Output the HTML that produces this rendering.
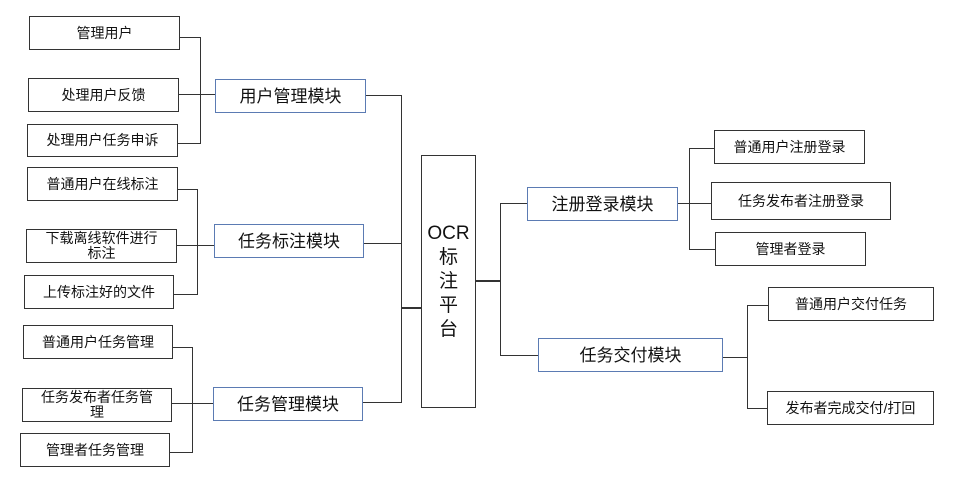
<!DOCTYPE html>
<html><head><meta charset="utf-8"><style>
body{margin:0;width:976px;height:477px;background:#fff;position:relative;overflow:hidden;font-family:"Liberation Sans","Noto Sans CJK SC",sans-serif;color:#111}
.b{position:absolute;box-sizing:border-box;border:1.3px solid #333;display:flex;align-items:center;justify-content:center;text-align:center;font-size:14px;line-height:15px;background:#fff}
.m{border-color:#5b7bb3;font-size:17px}
.h,.v{position:absolute;background:#333}
.h{height:1.3px}.v{width:1.3px}
</style></head><body>
<div class="b" style="left:29px;top:16px;width:151px;height:34px">管理用户</div>
<div class="b" style="left:28px;top:78px;width:151px;height:34px">处理用户反馈</div>
<div class="b" style="left:27px;top:124px;width:151px;height:33px">处理用户任务申诉</div>
<div class="b" style="left:27px;top:167px;width:151px;height:34px">普通用户在线标注</div>
<div class="b" style="left:26px;top:229px;width:151px;height:34px">下载离线软件进行<br>标注</div>
<div class="b" style="left:24px;top:275px;width:150px;height:34px">上传标注好的文件</div>
<div class="b" style="left:23px;top:325px;width:150px;height:34px">普通用户任务管理</div>
<div class="b" style="left:22px;top:388px;width:150px;height:34px">任务发布者任务管<br>理</div>
<div class="b" style="left:20px;top:433px;width:150px;height:34px">管理者任务管理</div>

<div class="b m" style="left:215px;top:79px;width:151px;height:34px">用户管理模块</div>
<div class="b m" style="left:214px;top:224px;width:150px;height:34px">任务标注模块</div>
<div class="b m" style="left:213px;top:387px;width:150px;height:34px">任务管理模块</div>

<div class="b" style="left:421px;top:155px;width:55px;height:253px;font-size:19px;line-height:24px">OCR<br>标<br>注<br>平<br>台</div>

<div class="b m" style="left:527px;top:187px;width:151px;height:34px">注册登录模块</div>
<div class="b m" style="left:538px;top:338px;width:185px;height:34px">任务交付模块</div>

<div class="b" style="left:714px;top:130px;width:151px;height:34px">普通用户注册登录</div>
<div class="b" style="left:711px;top:182px;width:180px;height:38px">任务发布者注册登录</div>
<div class="b" style="left:715px;top:232px;width:151px;height:34px">管理者登录</div>
<div class="b" style="left:768px;top:287px;width:166px;height:34px">普通用户交付任务</div>
<div class="b" style="left:767px;top:391px;width:167px;height:34px">发布者完成交付/打回</div>

<!-- bracket 1 -->
<div class="h" style="left:180px;top:37px;width:20px"></div>
<div class="h" style="left:179px;top:94px;width:36px"></div>
<div class="h" style="left:178px;top:143px;width:22px"></div>
<div class="v" style="left:200px;top:37px;height:107px"></div>
<!-- bracket 2 -->
<div class="h" style="left:178px;top:189px;width:19px"></div>
<div class="h" style="left:177px;top:245px;width:37px"></div>
<div class="h" style="left:174px;top:294px;width:23px"></div>
<div class="v" style="left:197px;top:189px;height:106px"></div>
<!-- bracket 3 -->
<div class="h" style="left:173px;top:347px;width:19px"></div>
<div class="h" style="left:172px;top:403px;width:41px"></div>
<div class="h" style="left:170px;top:452px;width:22px"></div>
<div class="v" style="left:192px;top:347px;height:106px"></div>
<!-- to OCR -->
<div class="h" style="left:366px;top:95px;width:35px"></div>
<div class="h" style="left:364px;top:243px;width:37px"></div>
<div class="h" style="left:363px;top:402px;width:38px"></div>
<div class="v" style="left:401px;top:95px;height:308px"></div>
<div class="h" style="left:401px;top:307px;width:20px;height:2px"></div>
<!-- right -->
<div class="h" style="left:476px;top:280px;width:24px;height:2px"></div>
<div class="v" style="left:500px;top:203px;height:153px"></div>
<div class="h" style="left:500px;top:203px;width:27px"></div>
<div class="h" style="left:500px;top:355px;width:38px"></div>
<div class="h" style="left:678px;top:203px;width:33px"></div>
<div class="v" style="left:689px;top:148px;height:102px"></div>
<div class="h" style="left:689px;top:148px;width:25px"></div>
<div class="h" style="left:689px;top:249px;width:26px"></div>
<div class="h" style="left:723px;top:357px;width:24px"></div>
<div class="v" style="left:747px;top:305px;height:104px"></div>
<div class="h" style="left:747px;top:305px;width:21px"></div>
<div class="h" style="left:747px;top:408px;width:20px"></div>
</body></html>
